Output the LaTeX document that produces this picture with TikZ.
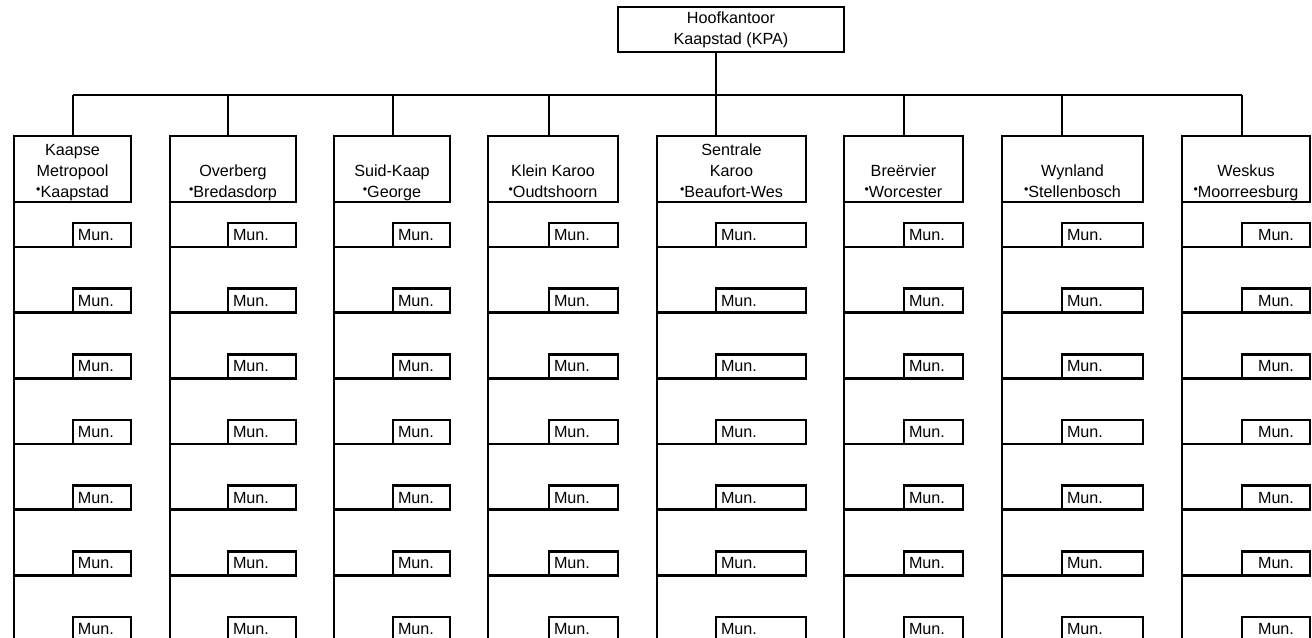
\documentclass[tikz,border=0pt]{standalone}
\usepackage{fontspec}
\setmainfont{Liberation Sans}
\usetikzlibrary{positioning}
\newcommand\town[1]{\raisebox{0.5ex}{\scriptsize\textbullet}#1\strut}

\begin{document}
\begin{tikzpicture}[
  x=0.02cm, y=-0.02cm,
  line width=1.4pt,
  every node/.style={font=\fontsize{9.2}{11.9}\selectfont, outer sep=0pt},
  hq/.style={draw, align=center, minimum width=4.52cm, minimum height=0.9cm, inner sep=0pt},
  region/.style={draw, minimum height=1.32cm, inner sep=0pt, anchor=north west},
  regiontext/.style={anchor=south, align=center, inner sep=0pt, yshift=-1pt},
  mun/.style={draw, minimum height=0.48cm, inner xsep=0.1cm, inner ysep=0pt, anchor=south west}
]
\clip (0,0) rectangle (1312,638);

\node[hq] (hoof) at (731,29.5) {Hoofkantoor\\Kaapstad (KPA)};

% districts, each with its column of municipalities
\foreach \l/\r/\d/\nm/\txt/\al in {
  14/131/73/kaapse/{Kaapse\\Metropool\\\town{Kaapstad}}/left,
  170/296/228/overberg/{Overberg\\\town{Bredasdorp}}/left,
  334/450/393/suidkaap/{Suid-Kaap\\\town{George}}/left,
  488/618/549/kleinkaroo/{Klein Karoo\\\town{Oudtshoorn}}/left,
  657/806/716/sentrale/{Sentrale\\Karoo\\\town{Beaufort-Wes}}/left,
  844/963/904/breervier/{Breërvier\\\town{Worcester}}/left,
  1002/1143/1062/wynland/{Wynland\\\town{Stellenbosch}}/left,
  1182/1310/1242/weskus/{Weskus\\\town{Moorreesburg}}/center}{
  \pgfmathsetmacro\bw{(\r-\l)*0.02}
  \pgfmathsetmacro\mw{(\r-\d)*0.02-0.2}
  \node[region, minimum width=\bw cm, label={[regiontext]south:{\txt}}] (\nm) at (\l,136) {};
  \coordinate (bus-\nm) at (\d,95);
  \draw (bus-\nm) -- (\nm.north -| bus-\nm);
  \draw (\nm.south west) -- (\l,645);
  \foreach \k in {0,...,6}{
    \node[mun, text width=\mw cm, align=\al] (\nm-\k) at (\d,247+65.67*\k) {Mun.};
    \draw (\nm.south west |- \nm-\k.south west) -- (\nm-\k.south west);
  }
}
\draw (bus-kaapse) -- (bus-weskus);
\draw (hoof.south -| bus-sentrale) -- (bus-sentrale);
\end{tikzpicture}
\end{document}
